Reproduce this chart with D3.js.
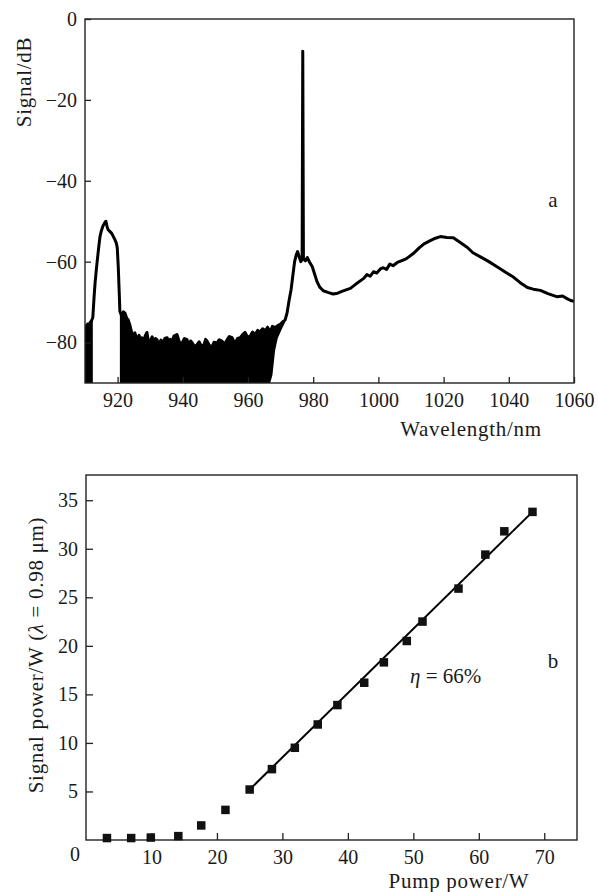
<!DOCTYPE html>
<html>
<head>
<meta charset="utf-8">
<script src="https://cdn.jsdelivr.net/npm/d3@7"></script>
<style>
  body { margin: 0; background: #fff; }
</style>
</head>
<body>
<div id="chart"></div>
<script>
const width = 598;
const height = 892;

// ---- panel a: output spectrum ----
// noise floor left of the pump line (top / bottom envelope, dB)
const leftFloorWl = [910, 910.4, 910.8, 911.2, 911.6, 912.0, 912.4];
const leftFloorTop = [-75.6, -76.3, -75.4, -75.9, -75.0, -74.6, -73.8];
const leftFloorLow = [-90, -90, -90, -90, -90, -90, -90];

// residual pump line near 916 nm
const pumpLineWl = [912.4, 912.8, 913.1, 913.5, 913.9, 914.3, 914.6, 915.0, 915.5, 916.0, 916.4, 916.8, 917.1, 917.6, 918.2, 918.7, 919.2, 919.6, 919.9, 920.2, 920.5, 920.7];
const pumpLineDb = [-73.8, -68.5, -65.2, -61.8, -58.7, -55.8, -53.8, -52.4, -51.2, -50.4, -50.0, -51.4, -52.1, -52.5, -53.0, -53.8, -54.6, -55.4, -56.6, -61.2, -67.7, -72.3];

// noisy floor 920-973 nm
const floorWl = [920.7, 921.3, 921.8, 922.3, 922.8, 923.2, 923.7, 924.1, 924.7, 925.3, 926.0, 926.6, 927.0, 927.5, 928.1, 928.5, 929.0, 929.5, 930.0, 930.6, 931.1, 931.6, 932.1, 932.7, 933.3, 933.9, 934.5, 935.2, 935.8, 936.2, 936.7, 937.3, 938.2, 938.8, 939.3, 939.8, 940.5, 941.3, 941.9, 942.4, 942.9, 943.6, 944.4, 945.0, 945.9, 946.6, 947.0, 947.5, 948.2, 949.0, 949.6, 950.5, 951.2, 952.1, 952.8, 953.6, 954.3, 955.1, 955.6, 956.1, 956.8, 957.6, 958.4, 959.1, 959.8, 960.7, 961.4, 962.2, 963.0, 963.7, 964.5, 965.3, 966.0, 966.8, 967.5, 968.3, 969.1, 969.9, 970.6, 971.4, 972.0, 972.6];
const floorTop = [-72.3, -73.5, -72.4, -72.8, -74.0, -74.3, -75.5, -76.8, -78.8, -77.6, -79.3, -78.2, -79.5, -78.8, -79.8, -78.3, -77.5, -79.9, -79.7, -78.6, -80.2, -79.0, -79.3, -80.6, -79.4, -80.1, -79.0, -78.8, -80.3, -79.2, -79.7, -78.4, -78.0, -79.5, -80.6, -80.1, -79.0, -79.3, -80.7, -79.6, -80.1, -81.0, -80.5, -79.8, -81.2, -80.3, -79.2, -79.7, -80.8, -81.0, -79.9, -80.1, -79.3, -79.7, -80.4, -79.3, -78.5, -78.8, -79.6, -80.1, -79.0, -78.8, -78.0, -77.5, -78.6, -78.4, -77.4, -78.0, -77.0, -77.4, -76.6, -77.1, -76.2, -77.4, -76.0, -76.3, -75.8, -75.5, -74.9, -74.4, -72.6, -69.6];
const floorLow = [-90, -90, -90, -90, -90, -90, -90, -90, -90, -90, -90, -90, -90, -90, -90, -90, -90, -90, -90, -90, -90, -90, -90, -90, -90, -90, -90, -90, -90, -90, -90, -90, -90, -90, -90, -90, -90, -90, -90, -90, -90, -90, -90, -90, -90, -90, -90, -90, -90, -90, -90, -90, -90, -90, -90, -90, -90, -90, -90, -90, -90, -90, -90, -90, -90, -90, -90, -90, -90, -90, -90, -90, -90, -90, -88, -82, -79, -77.5, -76.3, -75.0, -73.5, -70.0];

// laser line at 977 nm and ASE tail
const tailWl = [973.2, 973.9, 974.3, 974.8, 975.2, 975.7, 976.2, 976.6, 976.8, 977.0, 977.6, 978.2, 978.8, 979.7, 980.4, 981.2, 982.0, 983.1, 984.5, 986.1, 987.5, 989.0, 991.4, 993.0, 995.4, 996.5, 997.5, 998.5, 999.5, 1000.6, 1001.5, 1002.5, 1003.5, 1004.5, 1005.8, 1007.0, 1008.5, 1010.7, 1012.5, 1014.0, 1015.9, 1017.5, 1019.0, 1021.0, 1023.0, 1025.0, 1027.3, 1029.0, 1031.3, 1033.5, 1036.5, 1039.0, 1041.4, 1043.5, 1045.7, 1047.5, 1049.7, 1052.0, 1054.9, 1056.5, 1058.0, 1059.0, 1060.0];
const tailDb = [-67.0, -62.5, -60.0, -58.3, -57.5, -58.8, -60.0, -59.5, -8.0, -59.2, -59.8, -59.0, -60.0, -61.2, -63.0, -65.0, -66.3, -67.2, -67.6, -68.0, -67.8, -67.3, -66.6, -65.6, -64.2, -63.2, -63.6, -62.5, -62.8, -61.8, -61.5, -61.9, -60.6, -61.0, -60.2, -59.8, -59.3, -58.0, -56.6, -55.6, -54.8, -54.2, -53.8, -54.0, -54.1, -55.2, -56.5, -57.8, -58.8, -59.8, -61.3, -62.6, -63.8, -65.2, -66.4, -66.8, -67.1, -67.9, -68.7, -68.5, -69.2, -69.6, -69.8];

const wlTicks = [920, 940, 960, 980, 1000, 1020, 1040, 1060];
const dbTicks = [0, -20, -40, -60, -80];

// ---- panel b: signal vs pump power ----
const pumpPower = [3.2, 6.9, 9.9, 14.1, 17.6, 21.3, 25.0, 28.4, 31.9, 35.4, 38.4, 42.5, 45.5, 49.0, 51.4, 56.9, 61.0, 63.9, 68.2];
const signalPower = [0.2, 0.2, 0.25, 0.4, 1.5, 3.1, 5.2, 7.3, 9.5, 11.9, 13.9, 16.2, 18.3, 20.5, 22.5, 25.9, 29.4, 31.8, 33.8];
const fitPump = [25.0, 68.2];
const fitSignal = [5.2, 33.8];
const pumpTicks = [10, 20, 30, 40, 50, 60, 70];
const signalTicks = [5, 10, 15, 20, 25, 30, 35];

const font = "'Liberation Serif'";
const tickFont = "20px";
const labelFont = "21px";

const svg = d3.select("#chart")
  .append("svg")
  .attr("width", width)
  .attr("height", height)
  .style("font-family", font);

function styleAxis(g) {
  g.attr("font-family", null).attr("font-size", null);
  g.select(".domain").remove();
  g.selectAll(".tick line").attr("stroke", "#222").attr("stroke-width", 1.3);
  g.selectAll(".tick text")
    .style("font-family", font)
    .style("font-size", tickFont)
    .attr("fill", "#1a1a1a");
}

function label(x, y, str) {
  return svg.append("text")
    .attr("x", x)
    .attr("y", y)
    .attr("fill", "#1a1a1a")
    .style("font-family", font)
    .style("font-size", labelFont)
    .text(str);
}

// ================= panel a =================
const xA = d3.scaleLinear().domain([910, 1060]).range([85, 574]);
const yA = d3.scaleLinear().domain([-90, 0]).range([383, 19]);

svg.append("clipPath").attr("id", "clipA")
  .append("rect")
  .attr("x", xA(910)).attr("y", yA(0))
  .attr("width", xA(1060) - xA(910))
  .attr("height", yA(-90) - yA(0));

const plotA = svg.append("g").attr("clip-path", "url(#clipA)");

const band = d3.area()
  .x(d => xA(d.wl))
  .y0(d => yA(d.low))
  .y1(d => yA(d.top));

const leftFloor = leftFloorWl.map((wl, i) => ({ wl, top: leftFloorTop[i], low: leftFloorLow[i] }));
const floor = floorWl.map((wl, i) => ({ wl, top: floorTop[i], low: floorLow[i] }));

[leftFloor, floor].forEach(seg => {
  plotA.append("path")
    .datum(seg)
    .attr("d", band)
    .attr("fill", "#000");
});

const spectrum = []
  .concat(leftFloorWl.map((wl, i) => ({ wl, db: leftFloorTop[i] })))
  .concat(pumpLineWl.map((wl, i) => ({ wl, db: pumpLineDb[i] })))
  .concat(floorWl.map((wl, i) => ({ wl, db: floorTop[i] })))
  .concat(tailWl.map((wl, i) => ({ wl, db: tailDb[i] })));

plotA.append("path")
  .datum(spectrum)
  .attr("d", d3.line().x(d => xA(d.wl)).y(d => yA(d.db)))
  .attr("fill", "none")
  .attr("stroke", "#000")
  .attr("stroke-width", 3)
  .attr("stroke-linejoin", "round");

svg.append("rect")
  .attr("x", xA(910)).attr("y", yA(0))
  .attr("width", xA(1060) - xA(910))
  .attr("height", yA(-90) - yA(0))
  .attr("fill", "none")
  .attr("stroke", "#222")
  .attr("stroke-width", 1.4);

svg.append("g")
  .attr("transform", `translate(0,${yA(-90)})`)
  .call(d3.axisBottom(xA).tickValues(wlTicks).tickSize(-6).tickPadding(10).tickFormat(d3.format("d")))
  .call(styleAxis);

svg.append("g")
  .attr("transform", `translate(${xA(910)},0)`)
  .call(d3.axisLeft(yA).tickValues(dbTicks).tickSize(-6).tickPadding(8).tickFormat(d => d === 0 ? "0" : "\u2212" + Math.abs(d)))
  .call(styleAxis);

label(0, 0, "Signal/dB")
  .attr("transform", "translate(31,82) rotate(-90)")
  .attr("text-anchor", "middle")
  .style("letter-spacing", "0.7px");

label(471, 436, "Wavelength/nm")
  .attr("text-anchor", "middle")
  .style("letter-spacing", "0.7px");

label(553, 207, "a").attr("text-anchor", "middle");

// ================= panel b =================
const xB = d3.scaleLinear().domain([0, 75]).range([86, 577]);
const yB = d3.scaleLinear().domain([0, 37.6]).range([840, 475]);

svg.append("rect")
  .attr("x", xB(0)).attr("y", yB(37.6))
  .attr("width", xB(75) - xB(0))
  .attr("height", yB(0) - yB(37.6))
  .attr("fill", "none")
  .attr("stroke", "#222")
  .attr("stroke-width", 1.4);

svg.append("g")
  .attr("transform", `translate(0,${yB(0)})`)
  .call(d3.axisBottom(xB).tickValues(pumpTicks).tickSize(-7).tickPadding(10))
  .call(styleAxis);

svg.append("g")
  .attr("transform", `translate(${xB(0)},0)`)
  .call(d3.axisLeft(yB).tickValues(signalTicks).tickSize(-7).tickPadding(8))
  .call(styleAxis);

label(xB(0) - 11, yB(0) + 21, "0")
  .attr("text-anchor", "middle")
  .style("font-size", tickFont);

svg.append("line")
  .attr("x1", xB(fitPump[0])).attr("y1", yB(fitSignal[0]))
  .attr("x2", xB(fitPump[1])).attr("y2", yB(fitSignal[1]))
  .attr("stroke", "#000")
  .attr("stroke-width", 2);

const sq = 8.5;
svg.selectAll("rect.pt")
  .data(pumpPower.map((p, i) => ({ p, s: signalPower[i] })))
  .enter()
  .append("rect")
  .attr("class", "pt")
  .attr("x", d => xB(d.p) - sq / 2)
  .attr("y", d => yB(d.s) - sq / 2)
  .attr("width", sq)
  .attr("height", sq)
  .attr("fill", "#111");

const yLabel = label(0, 0, null)
  .attr("transform", "translate(43,655) rotate(-90)")
  .attr("text-anchor", "middle")
  .style("letter-spacing", "0.7px");
yLabel.append("tspan").text("Signal power/W (");
yLabel.append("tspan").style("font-style", "italic").text("\u03bb");
yLabel.append("tspan").text(" = 0.98 \u03bcm)");

label(459, 888, "Pump power/W")
  .attr("text-anchor", "middle")
  .style("letter-spacing", "0.7px");

const eta = label(410, 683, null);
eta.append("tspan").style("font-style", "italic").text("\u03b7");
eta.append("tspan").text(" = 66%");

label(553, 668, "b").attr("text-anchor", "middle");
</script>
</body>
</html>
